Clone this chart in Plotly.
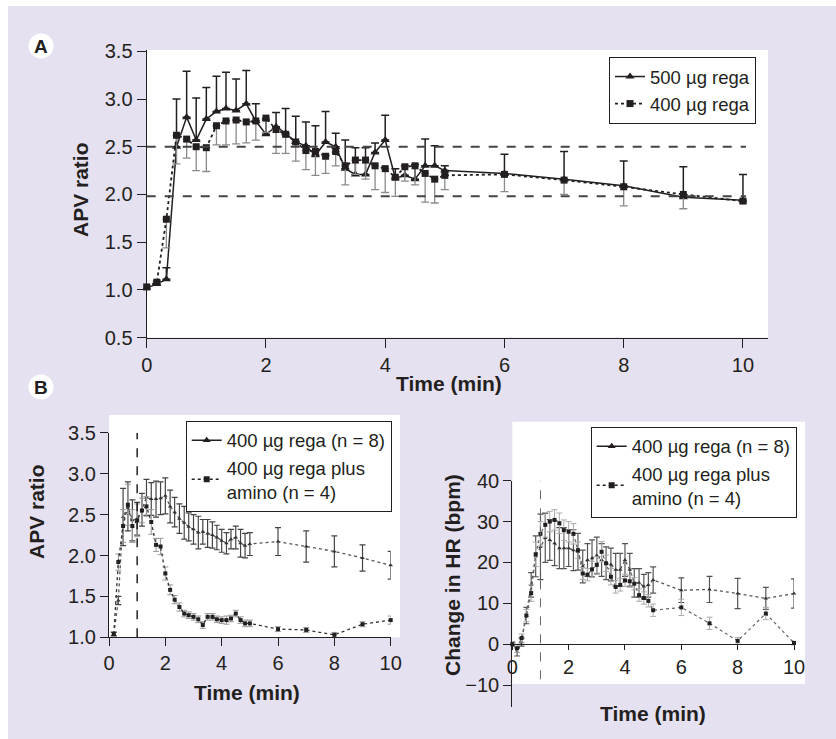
import plotly.graph_objects as go

# the page keeps its default 8px body margin, so the figure is 16px smaller than the window
W, H = 820, 723
OFF = 8

# ---- panel A: APV ratio, 500 vs 400 ug ----
t_a = [0, 0.17, 0.33, 0.5, 0.67, 0.83, 1.0, 1.17, 1.33, 1.5, 1.67, 1.83, 2.0, 2.17, 2.33, 2.5,
       2.67, 2.83, 3.0, 3.17, 3.33, 3.5, 3.67, 3.83, 4.0, 4.17, 4.33, 4.5, 4.67, 4.83, 5.0,
       6, 7, 8, 9, 10]
rega500 = [1.02, 1.06, 1.11, 2.50, 2.81, 2.57, 2.79, 2.87, 2.90, 2.88, 2.95, 2.77, 2.63, 2.71,
           2.64, 2.55, 2.51, 2.41, 2.55, 2.50, 2.27, 2.21, 2.21, 2.44, 2.57, 2.17, 2.20, 2.16,
           2.30, 2.30, 2.25, 2.22, 2.16, 2.09, 1.97, 1.94]
rega500_up = [0.02, 0.03, 0.12, 0.50, 0.48, 0.44, 0.33, 0.37, 0.38, 0.33, 0.35, 0.18, 0.15, 0.15,
              0.26, 0.27, 0.25, 0.31, 0.32, 0.14, 0.30, 0.28, 0.28, 0.10, 0.26, 0.10, 0.10, 0.15,
              0.28, 0.21, 0.05, 0.20, 0.29, 0.26, 0.32, 0.27]
rega400 = [1.03, 1.08, 1.74, 2.62, 2.58, 2.50, 2.49, 2.72, 2.77, 2.78, 2.76, 2.77, 2.80, 2.68,
           2.63, 2.55, 2.46, 2.45, 2.40, 2.45, 2.30, 2.36, 2.36, 2.30, 2.27, 2.18, 2.29, 2.30,
           2.22, 2.16, 2.20, 2.21, 2.15, 2.08, 2.00, 1.93]
rega400_down = [0.02, 0.02, 0.30, 0.30, 0.20, 0.25, 0.25, 0.20, 0.25, 0.25, 0.22, 0.20, 0.15, 0.25,
                0.20, 0.20, 0.20, 0.25, 0.18, 0.15, 0.20, 0.15, 0.20, 0.25, 0.25, 0.20, 0.15, 0.20,
                0.30, 0.25, 0.15, 0.18, 0.15, 0.20, 0.15, 0.02]
ref_levels = [2.5, 1.98]

# ---- panel B left: APV ratio, with / without amino ----
t_b = [0.17, 0.33, 0.5, 0.67, 0.83, 1.0, 1.17, 1.33, 1.5, 1.67, 1.83, 2.0, 2.17, 2.33, 2.5,
       2.67, 2.83, 3.0, 3.17, 3.33, 3.5, 3.67, 3.83, 4.0, 4.17, 4.33, 4.5, 4.67, 4.83, 5.0,
       6, 7, 8, 9, 10]
apv8 = [1.04, 1.45, 2.47, 2.60, 2.43, 2.45, 2.56, 2.71, 2.69, 2.69, 2.70, 2.73, 2.60, 2.53,
        2.45, 2.40, 2.35, 2.32, 2.28, 2.29, 2.27, 2.25, 2.22, 2.18, 2.15, 2.20, 2.22, 2.15,
        2.12, 2.14, 2.17, 2.11, 2.05, 1.97, 1.88]
apv8_err = [0.02, 0.05, 0.35, 0.30, 0.25, 0.20, 0.20, 0.22, 0.20, 0.22, 0.20, 0.22, 0.20, 0.18,
            0.18, 0.20, 0.17, 0.18, 0.20, 0.15, 0.17, 0.16, 0.15, 0.14, 0.13, 0.12, 0.14, 0.17,
            0.15, 0.14, 0.17, 0.19, 0.19, 0.16, 0.17]
apv_amino = [1.04, 1.92, 2.36, 2.62, 2.36, 2.43, 2.55, 2.60, 2.41, 2.13, 2.11, 1.78, 1.58, 1.46,
             1.37, 1.29, 1.27, 1.25, 1.22, 1.15, 1.25, 1.25, 1.22, 1.21, 1.21, 1.23, 1.29, 1.21,
             1.17, 1.17, 1.10, 1.09, 1.03, 1.16, 1.21]
apv_amino_err = [0.03, 0.10, 0.20, 0.25, 0.20, 0.20, 0.15, 0.12, 0.15, 0.08, 0.10, 0.08, 0.06, 0.05,
                 0.05, 0.04, 0.04, 0.04, 0.04, 0.04, 0.04, 0.04, 0.04, 0.04, 0.05, 0.04, 0.04, 0.04,
                 0.04, 0.04, 0.03, 0.03, 0.03, 0.03, 0.05]

# ---- panel B right: change in HR ----
t_c = [0, 0.17, 0.33, 0.5, 0.67, 0.83, 1.0, 1.17, 1.33, 1.5, 1.67, 1.83, 2.0, 2.17, 2.33, 2.5,
       2.67, 2.83, 3.0, 3.17, 3.33, 3.5, 3.67, 3.83, 4.0, 4.17, 4.33, 4.5, 4.67, 4.83, 5.0,
       6, 7, 8, 9, 10]
hr8 = [0, -1.9, 0.5, 7.0, 14.5, 21.5, 23.8, 26.0, 25.5, 24.7, 23.5, 23.5, 23.5, 23.0, 22.6, 19.0,
       20.6, 21.0, 21.7, 20.6, 19.8, 19.5, 18.2, 18.2, 20.6, 18.2, 15.0, 15.0, 14.1, 14.5, 15.7,
       13.2, 13.4, 12.4, 11.2, 12.4]
hr8_err = [0.5, 1.0, 1.0, 2.0, 3.0, 5.0, 8.0, 6.0, 5.0, 5.5, 5.0, 5.0, 4.5, 5.0, 4.5, 4.0,
           4.0, 4.5, 4.5, 4.0, 4.0, 4.0, 4.0, 4.0, 4.0, 4.0, 3.5, 3.5, 3.0, 3.0, 3.2,
           3.0, 3.2, 3.7, 2.7, 3.6]
hr_amino = [0, -1.0, 1.5, 7.0, 12.5, 22.0, 27.0, 29.2, 30.0, 30.4, 29.6, 27.9, 27.5, 27.0, 23.0, 17.3,
            17.0, 18.3, 19.4, 22.6, 19.8, 16.5, 14.0, 14.5, 15.6, 15.4, 14.8, 12.0, 11.3, 10.6, 8.3,
            9.0, 5.1, 0.8, 7.5, 0.3]
hr_amino_err = [0.5, 1.0, 1.0, 1.5, 2.0, 3.0, 3.0, 3.0, 2.5, 2.5, 2.5, 2.5, 2.5, 2.5, 2.0, 1.5,
                1.5, 2.0, 2.0, 2.5, 2.0, 2.0, 1.5, 1.5, 1.5, 1.5, 1.5, 1.5, 1.5, 1.5, 1.5,
                2.0, 1.5, 0.8, 1.5, 0.5]

x_ticks = [0, 2, 4, 6, 8, 10]

FONT = "Liberation Sans, Arial, sans-serif"
INK = "#231f20"
LAV = "#e6e1f0"


# positions below are window pixels, converted to paper fractions
def px(x):
    return (x - OFF) / W


def py(y):
    return 1 - (y - OFF) / H


fig = go.Figure()

# panel A
fig.add_trace(go.Scatter(
    x=t_a, y=rega500, name="500 µg rega", mode="lines+markers",
    line=dict(color=INK, width=1.5),
    marker=dict(symbol="triangle-up", size=8, color=INK),
    error_y=dict(type="data", symmetric=False, array=rega500_up, arrayminus=[0] * len(t_a),
                 color=INK, thickness=1.5, width=4),
    cliponaxis=False, legend="legend"))
fig.add_trace(go.Scatter(
    x=t_a, y=rega400, name="400 µg rega", mode="lines+markers",
    line=dict(color=INK, width=1.8, dash="dot"),
    marker=dict(symbol="square", size=7, color=INK),
    error_y=dict(type="data", symmetric=False, array=[0] * len(t_a), arrayminus=rega400_down,
                 color="#8a8a8a", thickness=1.3, width=4),
    cliponaxis=False, legend="legend"))

# panel B left
fig.add_trace(go.Scatter(
    x=t_b, y=apv8, mode="lines+markers", showlegend=False,
    line=dict(color="#555", width=1.3, dash="dot"),
    marker=dict(symbol="triangle-up", size=4, color="#333"),
    error_y=dict(type="data", array=apv8_err, color="#444", thickness=1.2, width=3),
    cliponaxis=False, xaxis="x2", yaxis="y2"))
fig.add_trace(go.Scatter(
    x=t_b, y=apv_amino, mode="lines+markers", showlegend=False,
    line=dict(color="#333", width=1.3, dash="dot"),
    marker=dict(symbol="square", size=4, color=INK),
    error_y=dict(type="data", array=apv_amino_err, color="#999", thickness=1, width=3),
    cliponaxis=False, xaxis="x2", yaxis="y2"))

# panel B right
fig.add_trace(go.Scatter(
    x=t_c, y=hr8, mode="lines+markers", showlegend=False,
    line=dict(color="#555", width=1.3, dash="dot"),
    marker=dict(symbol="triangle-up", size=4, color="#333"),
    error_y=dict(type="data", array=hr8_err, color="#555", thickness=1.2, width=3),
    cliponaxis=False, xaxis="x3", yaxis="y3"))
fig.add_trace(go.Scatter(
    x=t_c, y=hr_amino, mode="lines+markers", showlegend=False,
    line=dict(color="#666", width=1.2, dash="dot"),
    marker=dict(symbol="square", size=4, color=INK),
    error_y=dict(type="data", array=hr_amino_err, color="#aaa", thickness=1, width=3),
    cliponaxis=False, xaxis="x3", yaxis="y3"))

# legend entries for the B panels
for lg, xa, ya in [("legend2", "x2", "y2"), ("legend3", "x3", "y3")]:
    fig.add_trace(go.Scatter(
        x=[None], y=[None], name="400 µg rega (n = 8)", mode="lines+markers",
        line=dict(color=INK, width=1.3), marker=dict(symbol="triangle-up", size=7, color=INK),
        legend=lg, xaxis=xa, yaxis=ya))
    fig.add_trace(go.Scatter(
        x=[None], y=[None], name="400 µg rega plus<br>amino (n = 4)", mode="lines+markers",
        line=dict(color=INK, width=1.5, dash="dot"), marker=dict(symbol="square", size=6, color=INK),
        legend=lg, xaxis=xa, yaxis=ya))

shapes = [
    dict(type="rect", xref="paper", yref="paper", x0=px(146.7), x1=px(768), y0=py(337.5), y1=py(50),
         fillcolor="white", line_width=0, layer="below"),
    dict(type="rect", xref="paper", yref="paper", x0=px(109), x1=px(400), y0=py(637.3), y1=py(415),
         fillcolor="white", line_width=0, layer="below"),
    dict(type="rect", xref="paper", yref="paper", x0=px(512.3), x1=px(805), y0=py(684), y1=py(421.7),
         fillcolor="white", line_width=0, layer="below"),
    dict(type="line", xref="x2", yref="y2", x0=1, x1=1, y0=1.0, y1=3.5,
         line=dict(color=INK, width=1.5, dash="dash")),
    dict(type="line", xref="x3", yref="y3", x0=1, x1=1, y0=-8.6, y1=40,
         line=dict(color="#666", width=1, dash="dash")),
]
for lev in ref_levels:
    shapes.append(dict(type="line", xref="x", yref="y", x0=0, x1=10.05, y0=lev, y1=lev,
                       line=dict(color="#444", width=2, dash="dash")))
for cy in [46, 387]:
    shapes.append(dict(type="circle", xref="paper", yref="paper",
                       x0=px(28.5), x1=px(53.5), y0=py(cy + 12.5), y1=py(cy - 12.5),
                       fillcolor="white", line_width=0, layer="below"))

annotations = []
for label, cy in [("A", 46), ("B", 387)]:
    annotations.append(dict(text="<b>" + label + "</b>", x=px(41), y=py(cy), xref="paper", yref="paper",
                            xanchor="center", yanchor="middle",
                            showarrow=False, font=dict(size=19, color=INK)))
titles = [
    ("APV ratio", 80, 190, -90),
    ("Time (min)", 449, 383, 0),
    ("APV ratio", 36, 512, -90),
    ("Time (min)", 247, 692, 0),
    ("Change in HR (bpm)", 452, 575, -90),
    ("Time (min)", 653, 713, 0),
]
for txt, x, y, ang in titles:
    annotations.append(dict(text="<b>" + txt + "</b>", x=px(x), y=py(y), xref="paper", yref="paper",
                            xanchor="center", yanchor="middle",
                            showarrow=False, textangle=ang, font=dict(size=21, color=INK)))

axis_common = dict(showline=True, linecolor=INK, linewidth=1.3, ticks="outside", tickcolor=INK,
                   tickwidth=1.3, showgrid=False, zeroline=False, automargin=False,
                   tickfont=dict(size=20, color=INK, family=FONT))

legend_common = dict(xanchor="left", yanchor="top", bgcolor="white", bordercolor=INK, borderwidth=1,
                     font=dict(size=18.5, color=INK, family=FONT), tracegroupgap=2)

fig.update_layout(
    width=W, height=H,
    margin=dict(l=0, r=0, t=0, b=0, pad=0, autoexpand=False),
    paper_bgcolor=LAV,
    plot_bgcolor="rgba(0,0,0,0)",
    font=dict(family=FONT, color=INK),
    shapes=shapes,
    annotations=annotations,
    xaxis=dict(axis_common, domain=[px(146.7), px(768)], range=[0, 10.42], tickvals=x_ticks,
               ticklen=9, anchor="y"),
    yaxis=dict(axis_common, domain=[py(337.5), py(50)], range=[0.5, 3.514],
               tickvals=[0.5, 1.0, 1.5, 2.0, 2.5, 3.0, 3.5], tickformat=".1f", ticklen=9, anchor="x"),
    xaxis2=dict(axis_common, domain=[px(109), px(390.7)], range=[0, 10], tickvals=x_ticks,
                ticklen=8, anchor="y2"),
    yaxis2=dict(axis_common, domain=[py(637.3), py(432.8)], range=[1.0, 3.5],
                tickvals=[1.0, 1.5, 2.0, 2.5, 3.0, 3.5], tickformat=".1f", ticklen=8, anchor="x2"),
    xaxis3=dict(axis_common, domain=[px(512.3), px(794)], range=[0, 10], tickvals=x_ticks,
                ticklen=5, anchor="free", position=py(644)),
    yaxis3=dict(axis_common, domain=[py(706.7), py(480.7)], range=[-15.3, 40],
                tickvals=[-10, 0, 10, 20, 30, 40], ticklen=8, anchor="x3"),
    legend=dict(legend_common, x=px(609), y=py(57)),
    legend2=dict(legend_common, x=px(185.7), y=py(420.7)),
    legend3=dict(legend_common, x=px(590.7), y=py(426.7)),
)

# page background: white strip top/left like the figure's border, lavender elsewhere
fig.write_html(
    "out.html",
    config={"displayModeBar": False},
    post_script=("document.body.style.background="
                 "'linear-gradient(to right, white 8px, transparent 8px),"
                 " linear-gradient(to bottom, white 6px, #e6e1f0 6px)';"),
)
